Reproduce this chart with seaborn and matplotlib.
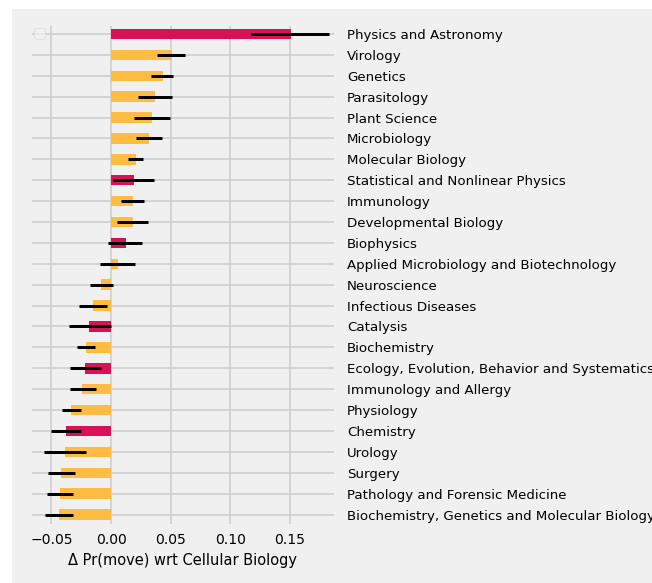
#Horizontal bar chart of the change in Pr(move) per field, relative to Cellular Biology
import matplotlib.pyplot as plt
import pandas as pd
import seaborn as sns

#field names, top to bottom
fields = ["Physics and Astronomy", "Virology", "Genetics", "Parasitology", "Plant Science",
          "Microbiology", "Molecular Biology", "Statistical and Nonlinear Physics", "Immunology",
          "Developmental Biology", "Biophysics", "Applied Microbiology and Biotechnology",
          "Neuroscience", "Infectious Diseases", "Catalysis", "Biochemistry",
          "Ecology, Evolution, Behavior and Systematics", "Immunology and Allergy", "Physiology",
          "Chemistry", "Urology", "Surgery", "Pathology and Forensic Medicine",
          "Biochemistry, Genetics and Molecular Biology"]

#difference in probability of moving
delta = [0.1508, 0.0508, 0.0436, 0.0369, 0.0344, 0.0318, 0.0210, 0.0193, 0.0184, 0.0184,
         0.0126, 0.0059, -0.0084, -0.0151, -0.0184, -0.0210, -0.0218, -0.0243, -0.0335,
         -0.0377, -0.0385, -0.0419, -0.0427, -0.0436]

#lower and upper ends of the interval
low = [0.1173, 0.0385, 0.0335, 0.0226, 0.0193, 0.0210, 0.0142, 0.0017, 0.0084, 0.0050,
       -0.0025, -0.0092, -0.0176, -0.0268, -0.0352, -0.0285, -0.0344, -0.0344, -0.0410,
       -0.0503, -0.0561, -0.0528, -0.0536, -0.0553]
high = [0.1827, 0.0620, 0.0520, 0.0511, 0.0494, 0.0427, 0.0268, 0.0360, 0.0276, 0.0310,
        0.0261, 0.0201, 0.0017, -0.0034, 0.0000, -0.0134, -0.0084, -0.0126, -0.0251,
        -0.0251, -0.0209, -0.0302, -0.0318, -0.0318]

#which fields are physical sciences (drawn in red)
physical = ["Physics and Astronomy", "Statistical and Nonlinear Physics", "Biophysics",
            "Catalysis", "Ecology, Evolution, Behavior and Systematics", "Chemistry"]

df = pd.DataFrame({"field": fields, "delta": delta, "low": low, "high": high})
df["group"] = ["phys" if f in physical else "bio" for f in fields]
colours = {"phys": "#d81159", "bio": "#ffbc42"}

plt.style.use("fivethirtyeight")
fig = plt.figure(figsize=(652 / 72, 583 / 72), dpi=72, facecolor="white")
#grey background, leaving a thin white strip at the left and top like the original
fig.patches.append(plt.Rectangle((12 / 652, 0), 1, 1 - 9 / 583, transform=fig.transFigure,
                                 facecolor="#f0f0f0", edgecolor="none", zorder=-1))
ax = fig.add_axes([30 / 652, 58 / 583, 305 / 652, 501.5 / 583])

sns.barplot(data=df, y="field", x="delta", hue="group", palette=colours, dodge=False,
            width=0.5, saturation=1, legend=False, ax=ax)

#interval lines
ax.hlines(range(len(fields)), df["low"], df["high"], color="black", lw=3, zorder=3)

ax.set_xlim(-0.068, 0.188)
ax.set_ylim(23.5, -0.5)
ax.set_xticks([-0.05, 0.0, 0.05, 0.10, 0.15])
ax.set_xticklabels(["\u22120.05", "0.00", "0.05", "0.10", "0.15"])
ax.yaxis.tick_right()
ax.tick_params(axis="y", pad=12, labelsize=13.4)
ax.tick_params(axis="x", pad=8, labelsize=14)
ax.set_ylabel("")
ax.set_xlabel("\u0394 Pr(move) wrt Cellular Biology", fontsize=14.6, labelpad=6)
ax.grid(True, color="#cbcbcb", lw=1.5)
ax.set_axisbelow(True)

#empty legend box as in the original
ax.legend(handles=[], loc="upper left", borderaxespad=0.3)

plt.savefig("out.png", dpi=72, facecolor=fig.get_facecolor())
